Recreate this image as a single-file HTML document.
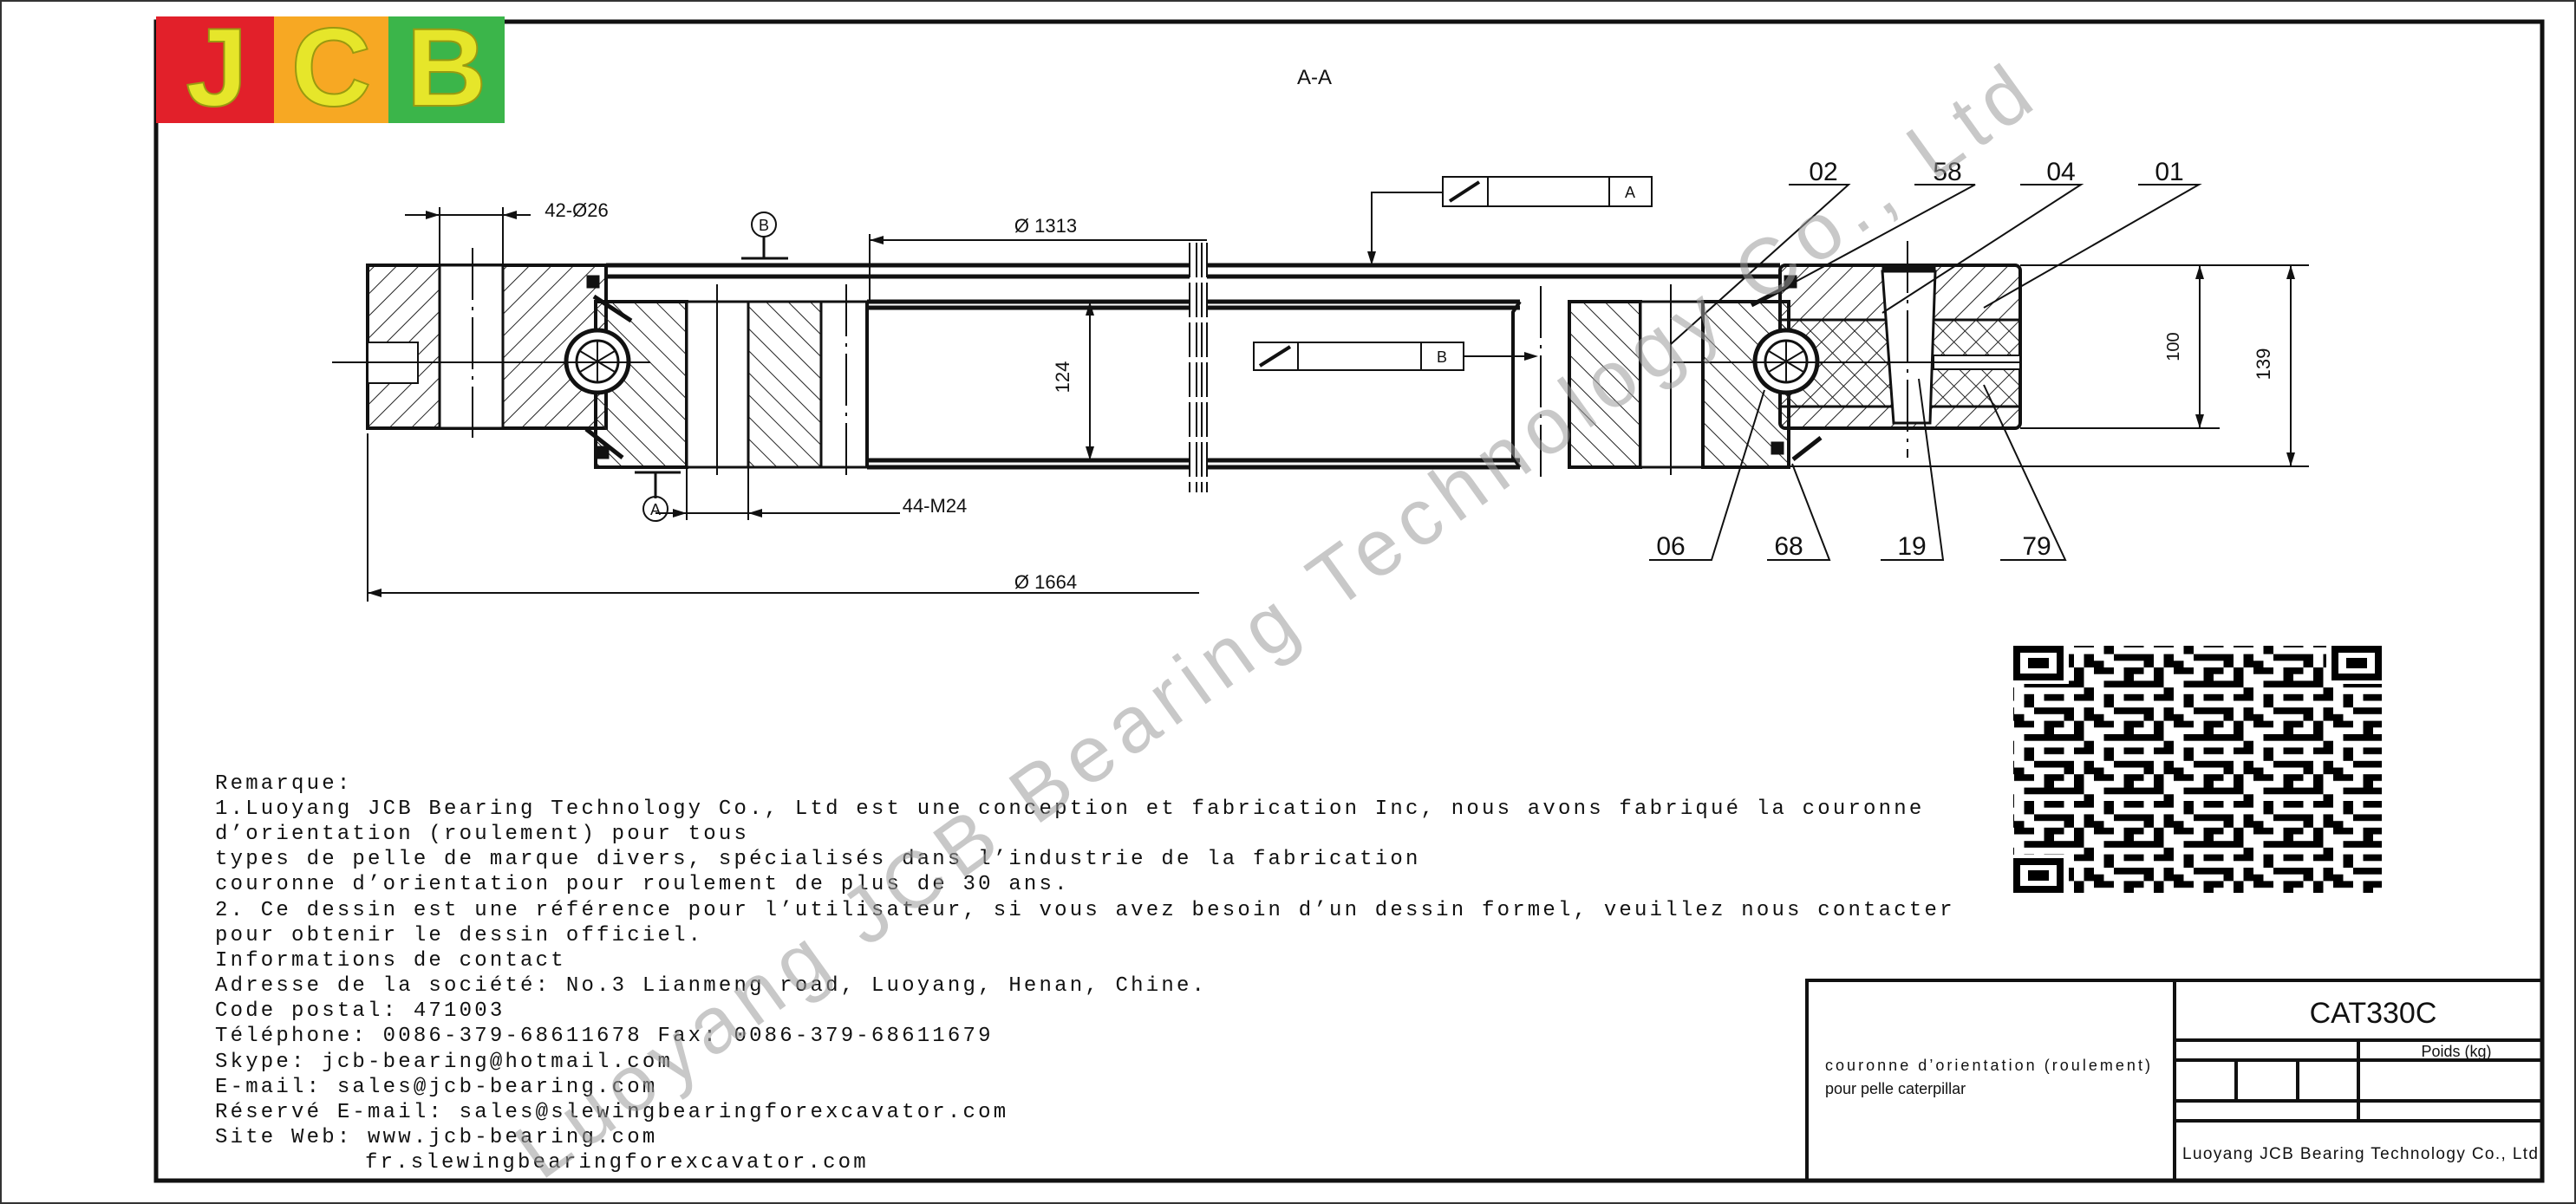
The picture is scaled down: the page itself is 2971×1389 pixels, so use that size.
<!DOCTYPE html>
<html><head><meta charset="utf-8"><style>
html,body{margin:0;padding:0;background:#fff}
svg{display:block}
.t{font-family:"Liberation Mono",monospace;font-size:24px;letter-spacing:3.2px;fill:#111}
.d{font-family:"Liberation Sans Narrow","Liberation Sans",sans-serif;fill:#111}
</style></head><body>
<svg width="2971" height="1389" viewBox="0 0 2971 1389" xmlns="http://www.w3.org/2000/svg">
<defs>
<pattern id="hb" width="18" height="18" patternUnits="userSpaceOnUse" patternTransform="rotate(45)"><line x1="0" y1="0" x2="0" y2="18" stroke="#222" stroke-width="2"/></pattern>
<pattern id="hf" width="18" height="18" patternUnits="userSpaceOnUse" patternTransform="rotate(-45)"><line x1="0" y1="0" x2="0" y2="18" stroke="#222" stroke-width="2"/></pattern>
<pattern id="qr" width="92" height="61.6" patternUnits="userSpaceOnUse">
<g fill="#000">
<rect x="0" y="0" width="23" height="7.7"/><rect x="34.5" y="0" width="11.5" height="15.4"/><rect x="57.5" y="0" width="23" height="7.7"/>
<rect x="11.5" y="15.4" width="11.5" height="15.4"/><rect x="46" y="15.4" width="34.5" height="7.7"/><rect x="80.5" y="15.4" width="11.5" height="15.4"/>
<rect x="0" y="30.8" width="11.5" height="15.4"/><rect x="23" y="30.8" width="23" height="7.7"/><rect x="57.5" y="30.8" width="11.5" height="23.1"/>
<rect x="34.5" y="46.2" width="23" height="7.7"/><rect x="69" y="46.2" width="23" height="7.7"/><rect x="11.5" y="53.9" width="11.5" height="7.7"/>
<rect x="23" y="23.1" width="11.5" height="7.7"/><rect x="69" y="30.8" width="11.5" height="7.7"/><rect x="0" y="46.2" width="11.5" height="7.7"/>
</g></pattern>
</defs>
<rect x="1" y="1" width="2969" height="1387" fill="none" stroke="#333" stroke-width="2"/>
<rect x="180" y="25" width="2752" height="1337" fill="none" stroke="#111" stroke-width="5"/>
<!-- logo -->
<rect x="180" y="19" width="136" height="123" fill="#e2202a"/>
<rect x="316" y="19" width="132" height="123" fill="#f7a823"/>
<rect x="448" y="19" width="134" height="123" fill="#3bb54a"/>
<text x="250" y="122" text-anchor="middle" font-family="Liberation Sans" font-weight="bold" font-size="128" fill="#e6e62a" stroke="#9a9a10" stroke-width="2">J</text>
<text x="382" y="122" text-anchor="middle" font-family="Liberation Sans" font-weight="bold" font-size="128" fill="#e6e62a" stroke="#9a9a10" stroke-width="2">C</text>
<text x="515" y="122" text-anchor="middle" font-family="Liberation Sans" font-weight="bold" font-size="128" fill="#e6e62a" stroke="#9a9a10" stroke-width="2">B</text>
<text x="1516" y="97" class="d" font-size="24" text-anchor="middle">A-A</text>

<g stroke="#111" fill="none">
<rect x="424" y="306" width="275" height="188" fill="url(#hb)" stroke-width="4"/>
<rect x="507" y="306" width="73" height="188" fill="#fff" stroke-width="3"/>
<rect x="424" y="395" width="58" height="47" fill="#fff" stroke-width="2"/>
<rect x="687" y="348" width="105" height="191" fill="url(#hf)" stroke-width="4"/>
<rect x="792" y="348" width="71" height="191" fill="#fff" stroke-width="3"/>
<rect x="863" y="348" width="84" height="191" fill="url(#hf)" stroke-width="3"/>
<rect x="947" y="348" width="53" height="191" fill="#fff" stroke-width="3"/>
<line x1="976" y1="328" x2="976" y2="548" stroke-width="2" stroke-dasharray="60 8 4 8"/>
<line x1="827" y1="328" x2="827" y2="548" stroke-width="2"/>
<line x1="545" y1="286" x2="545" y2="505" stroke-width="2" stroke-dasharray="60 8 4 8"/>
<circle cx="689" cy="417" r="36" fill="#fff" stroke-width="5"/>
<circle cx="689" cy="417" r="24" stroke-width="3"/>
<path d="M669 405 L709 429 M669 429 L709 405 M689 393 V441" stroke-width="2"/>
<path d="M685 342 L728 370 M676 495 L718 528" stroke-width="5"/>
<rect x="677" y="318" width="14" height="14" fill="#111"/><rect x="688" y="515" width="14" height="14" fill="#111"/>
<line x1="383" y1="418" x2="750" y2="418" stroke-width="2"/>
<path d="M699 306 H1372 M1392 306 H2053 M699 319 H1372 M1392 319 H2053 M1000 348 H1372 M1392 348 H1753 M1000 355 H1372 M1392 355 H1753 M1000 531 H1372 M1392 531 H1753 M1000 539 H1372 M1392 539 H1753" stroke-width="5"/>
<line x1="1000" y1="348" x2="1000" y2="539" stroke-width="4"/>
<path d="M1372 280 V568 M1380 280 V568 M1386 280 V568 M1392 280 V568" stroke-width="2" stroke-dasharray="40 6"/>
<path d="M1753 348 L1745 360 V528 L1753 539" stroke-width="4"/>
<line x1="1777" y1="330" x2="1777" y2="552" stroke-width="2" stroke-dasharray="60 8 4 8"/>
<rect x="1810" y="348" width="82" height="191" fill="url(#hf)" stroke-width="4"/>
<rect x="1892" y="348" width="72" height="191" fill="#fff" stroke-width="3"/>
<rect x="1964" y="348" width="99" height="191" fill="url(#hf)" stroke-width="4"/>
<line x1="1927" y1="328" x2="1927" y2="548" stroke-width="2"/>
<rect x="2053" y="306" width="277" height="188" rx="6" fill="url(#hb)" stroke-width="4"/>
<rect x="2053" y="369" width="277" height="100" fill="url(#hf)" stroke-width="3"/>
<rect x="2230" y="410" width="100" height="16" fill="#fff" stroke-width="2"/>
<path d="M2171 313 L2232 313 L2226 488 L2184 488 Z" fill="#fff" stroke-width="3"/>
<rect x="2171" y="306" width="61" height="8" fill="#111"/>
<line x1="2200" y1="278" x2="2200" y2="528" stroke-width="2" stroke-dasharray="60 8 4 8"/>
<circle cx="2060" cy="417" r="36" fill="#fff" stroke-width="5"/>
<circle cx="2060" cy="417" r="24" stroke-width="3"/>
<path d="M2040 405 L2080 429 M2040 429 L2080 405 M2060 393 V441" stroke-width="2"/>
<path d="M2063 330 L2020 352 M2100 505 L2068 530" stroke-width="5"/>
<rect x="2058" y="318" width="14" height="14" fill="#111"/><rect x="2043" y="510" width="14" height="14" fill="#111"/>
<line x1="1930" y1="418" x2="2330" y2="418" stroke-width="2"/>
<path d="M2330 306 H2663 M2330 494 H2560 M2063 538 H2663" stroke-width="2"/>
<path d="M2537 306 V494 M2642 306 V538" stroke-width="2"/>
<path d="M424 500 V694 M424 684 H1383 M1003 270 V348 M1003 277 H1392 M1257 348 V531 M467 248 H612 M507 239 V306 M580 239 V306 M756 592 H1038 M792 540 V600 M863 540 V600" stroke-width="2"/>
<path d="M881 273 V298 M855 298 H909 M756 545 V575 M732 545 H785" stroke-width="3"/>
<circle cx="881" cy="259" r="14" stroke-width="2"/>
<circle cx="756" cy="587" r="14" stroke-width="2"/>
<rect x="1664" y="204" width="241" height="34" fill="#fff" stroke-width="2"/>
<path d="M1716 204 V238 M1856 204 V238 M1664 222 H1582 V300" stroke-width="2"/>
<path d="M1672 232 L1706 210" stroke-width="4"/>
<rect x="1446" y="395" width="242" height="32" fill="#fff" stroke-width="2"/>
<path d="M1497 395 V427 M1639 395 V427 M1688 411 H1770" stroke-width="2"/>
<path d="M1453 422 L1488 400" stroke-width="4"/>
<path d="M2063 213 H2132 L1927 397 M2208 213 H2278 L2021 352 M2330 213 H2400 L2171 361 M2466 213 H2536 L2288 355 M1902 646 H1974 L2035 450 M2038 646 H2110 L2067 535 M2169 646 H2241 L2213 437 M2307 646 H2382 L2288 444" stroke-width="2"/>
</g>
<g fill="#111">
<path d="M2537 306 l-5 16 h10z M2537 494 l-5 -16 h10z M2642 306 l-5 16 h10z M2642 538 l-5 -16 h10z M1257 348 l-5 16 h10z M1257 531 l-5 -16 h10z M1582 306 l-5 -16 h10z M1774 411 l-16 -5 v10z M424 684 l16 -5 v10z M1003 277 l16 -5 v10z M507 248 l-16 -5 v10z M580 248 l16 -5 v10z M792 592 l-16 -5 v10z M863 592 l16 -5 v10z"/>
</g>
<g class="d">
<text x="665" y="250" font-size="22" text-anchor="middle">42-Ø26</text>
<text x="881" y="266" font-size="18" text-anchor="middle">B</text>
<text x="756" y="594" font-size="18" text-anchor="middle">A</text>
<text x="1206" y="268" font-size="22" text-anchor="middle">Ø 1313</text>
<text x="1206" y="679" font-size="22" text-anchor="middle">Ø 1664</text>
<text x="1078" y="591" font-size="22" text-anchor="middle">44-M24</text>
<text x="1880" y="228" font-size="18" text-anchor="middle">A</text>
<text x="1663" y="418" font-size="18" text-anchor="middle">B</text>
<text transform="translate(1233,435) rotate(-90)" font-size="22" text-anchor="middle">124</text>
<text transform="translate(2513,400) rotate(-90)" font-size="20" text-anchor="middle">100</text>
<text transform="translate(2618,420) rotate(-90)" font-size="22" text-anchor="middle">139</text>
<text x="2103" y="208" font-size="30" text-anchor="middle">02</text>
<text x="2246" y="208" font-size="30" text-anchor="middle">58</text>
<text x="2377" y="208" font-size="30" text-anchor="middle">04</text>
<text x="2502" y="208" font-size="30" text-anchor="middle">01</text>
<text x="1927" y="640" font-size="30" text-anchor="middle">06</text>
<text x="2063" y="640" font-size="30" text-anchor="middle">68</text>
<text x="2205" y="640" font-size="30" text-anchor="middle">19</text>
<text x="2349" y="640" font-size="30" text-anchor="middle">79</text>
</g>
<rect x="2322" y="745" width="425" height="285" fill="url(#qr)"/>
<g fill="#fff"><rect x="2322" y="745" width="64" height="44"/><rect x="2683" y="745" width="64" height="44"/><rect x="2322" y="986" width="64" height="44"/></g>
<g fill="none" stroke="#000" stroke-width="8"><rect x="2326" y="749" width="50" height="32"/><rect x="2693" y="749" width="50" height="32"/><rect x="2326" y="994" width="50" height="32"/></g>
<g fill="#000"><rect x="2339" y="759" width="24" height="12"/><rect x="2706" y="759" width="24" height="12"/><rect x="2339" y="1004" width="24" height="12"/></g>
<g class="t">
<text x="248" y="910">Remarque:</text>
<text x="248" y="939">1.Luoyang JCB Bearing Technology Co., Ltd est une conception et fabrication Inc, nous avons fabriqué la couronne</text>
<text x="248" y="968">d’orientation (roulement) pour tous</text>
<text x="248" y="997">types de pelle de marque divers, spécialisés dans l’industrie de la fabrication</text>
<text x="248" y="1026">couronne d’orientation pour roulement de plus de 30 ans.</text>
<text x="248" y="1056">2. Ce dessin est une référence pour l’utilisateur, si vous avez besoin d’un dessin formel, veuillez nous contacter</text>
<text x="248" y="1085">pour obtenir le dessin officiel.</text>
<text x="248" y="1114">Informations de contact</text>
<text x="248" y="1143">Adresse de la société: No.3 Lianmeng road, Luoyang, Henan, Chine.</text>
<text x="248" y="1172">Code postal: 471003</text>
<text x="248" y="1201">Téléphone: 0086-379-68611678 Fax: 0086-379-68611679</text>
<text x="248" y="1231">Skype: jcb-bearing@hotmail.com</text>
<text x="248" y="1260">E-mail: sales@jcb-bearing.com</text>
<text x="248" y="1289">Réservé E-mail: sales@slewingbearingforexcavator.com</text>
<text x="248" y="1318">Site Web: www.jcb-bearing.com</text>
<text x="421" y="1347">fr.slewingbearingforexcavator.com</text>
</g>
<g stroke="#111" stroke-width="4" fill="none">
<rect x="2084" y="1131" width="848" height="231"/>
<path d="M2508 1131 V1362 M2508 1200 H2932 M2508 1223 H2932 M2508 1270 H2932 M2508 1293 H2932 M2720 1200 V1293 M2579 1223 V1270 M2650 1223 V1270"/>
</g>
<g class="d">
<text x="2737" y="1180" font-size="34" text-anchor="middle">CAT330C</text>
<text x="2833" y="1219" font-size="18" text-anchor="middle">Poids (kg)</text>
<text x="2517" y="1337" font-size="19" textLength="410">Luoyang JCB Bearing Technology Co., Ltd</text>
<text x="2105" y="1235" font-size="18" textLength="375">couronne d’orientation (roulement)</text>
<text x="2105" y="1262" font-size="18">pour pelle caterpillar</text>
</g>
<text transform="translate(1487,743) rotate(-35.7)" text-anchor="middle" font-family="Liberation Sans" font-size="92" fill="#9a9a9a" fill-opacity="0.55" textLength="2125">Luoyang JCB Bearing Technology Co., Ltd</text>
</svg>
</body></html>
